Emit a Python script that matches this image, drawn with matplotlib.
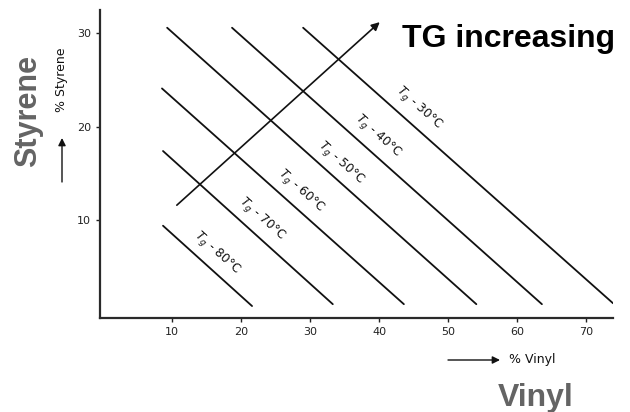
import matplotlib
matplotlib.use("Agg")
import matplotlib.pyplot as plt

# Tg iso-lines: start/end points in (% vinyl, % styrene)
temps = [80, 70, 60, 50, 40, 30]
x_start = [8.7, 8.7, 8.55, 9.3, 18.7, 29.0]
y_start = [9.4, 17.4, 24.1, 30.6, 30.6, 30.6]
x_end = [21.6, 33.3, 43.6, 54.1, 63.6, 73.9]
y_end = [0.8, 1.0, 1.0, 1.0, 1.0, 1.1]

# label centres for each line
label_x = [16.5, 23.0, 28.7, 34.5, 39.9, 45.7]
label_y = [6.5, 10.1, 13.1, 16.1, 19.0, 22.0]

# "Tg increasing" arrow
arrow_from = (10.7, 11.6)
arrow_to = (40.1, 31.2)

x_ticks = [10, 20, 30, 40, 50, 60, 70]
y_ticks = [10, 20, 30]

W, H = 630, 412
fig = plt.figure(figsize=(6.3, 4.12), dpi=100)
ax = fig.add_axes([100 / W, 1 - 318 / H, 513 / W, 308 / H])


def fpos(px, py):
    return px / W, 1 - py / H


ink = "#111111"
for xs, ys, xe, ye in zip(x_start, y_start, x_end, y_end):
    ax.plot([xs, xe], [ys, ye], color=ink, lw=1.3, solid_capstyle="round")

for t, lx, ly in zip(temps, label_x, label_y):
    ax.text(lx, ly, "$T_g$ - %d°C" % t, rotation=-42, rotation_mode="anchor",
            ha="center", va="center", fontsize=8.8, color=ink)

ax.annotate("", xy=arrow_to, xytext=arrow_from,
            arrowprops=dict(arrowstyle="-|>", color=ink, lw=1.2,
                            mutation_scale=12, shrinkA=0, shrinkB=0))

ax.set_xlim(-0.43, 73.9)
ax.set_ylim(-0.48, 32.5)
ax.set_xticks(x_ticks)
ax.set_yticks(y_ticks)
ax.tick_params(direction="out", length=3, width=1, labelsize=8, colors="#222222")
for s in ["top", "right"]:
    ax.spines[s].set_visible(False)
for s in ["left", "bottom"]:
    ax.spines[s].set_linewidth(1.6)
    ax.spines[s].set_color("#2a2a2a")

# small axis captions with arrows
fig.text(*fpos(62, 80), "% Styrene", rotation=90, ha="center", va="center",
         fontsize=9, color=ink)
ax.annotate("", xy=fpos(62, 138), xytext=fpos(62, 182), xycoords="figure fraction",
            textcoords="figure fraction",
            arrowprops=dict(arrowstyle="-|>", color=ink, lw=1.0,
                            mutation_scale=11, shrinkA=0, shrinkB=0))
fig.text(*fpos(509, 359), "% Vinyl", ha="left", va="center", fontsize=9, color=ink)
ax.annotate("", xy=fpos(500, 360), xytext=fpos(448, 360), xycoords="figure fraction",
            textcoords="figure fraction",
            arrowprops=dict(arrowstyle="-|>", color=ink, lw=1.0,
                            mutation_scale=11, shrinkA=0, shrinkB=0))

# big captions
gray = "#646464"
fig.text(*fpos(28, 111), "Styrene", rotation=90, ha="center", va="center",
         fontsize=22, fontweight="bold", color=gray, family="Liberation Sans")
fig.text(*fpos(498, 383), "Vinyl", ha="left", va="top",
         fontsize=23, fontweight="bold", color=gray, family="Liberation Sans")
fig.text(*fpos(402, 47), "TG increasing", ha="left", va="baseline",
         fontsize=23, fontweight="bold", color="black", family="Liberation Sans")

fig.savefig("out.png", dpi=100)
